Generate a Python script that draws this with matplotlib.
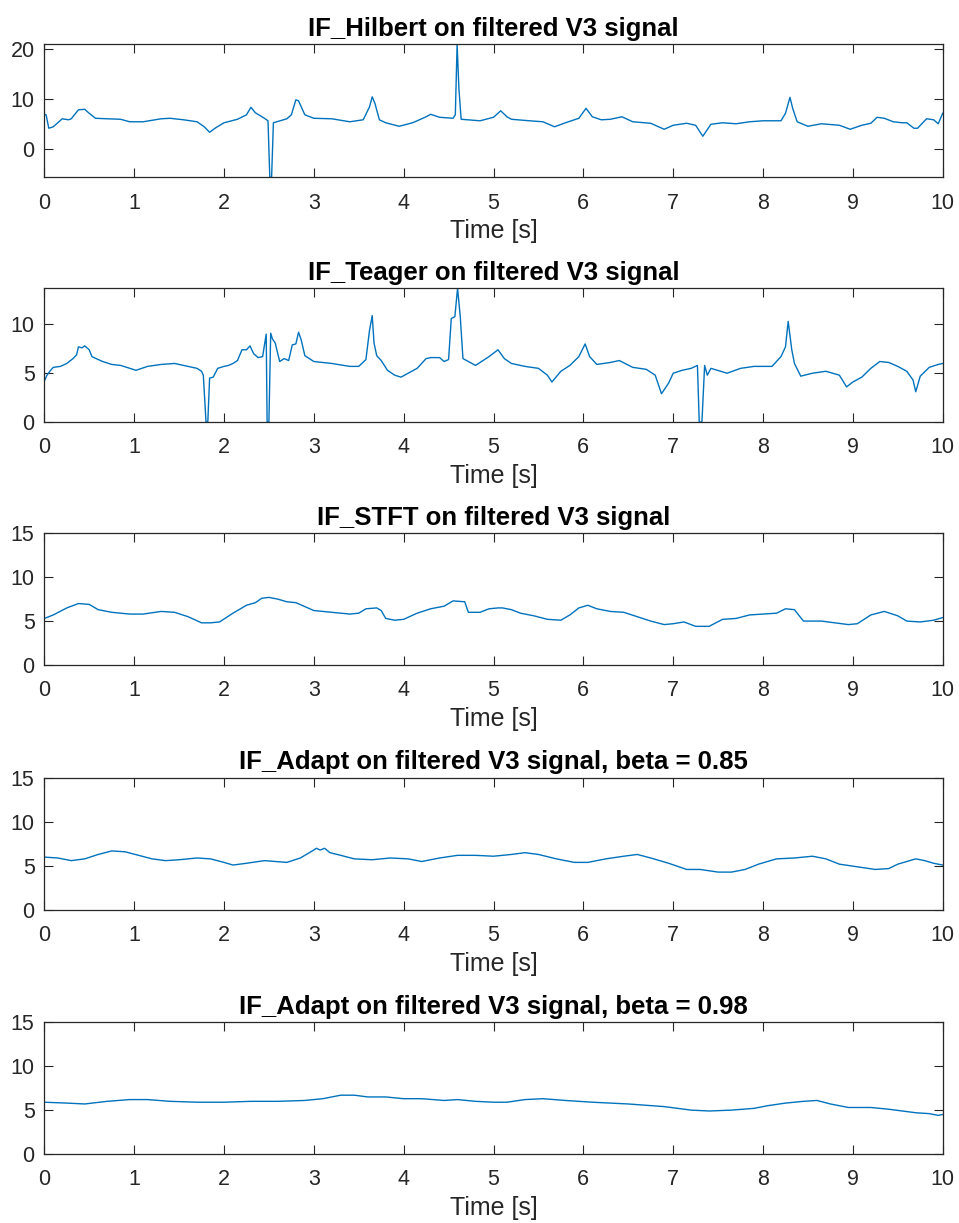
import matplotlib
matplotlib.use("Agg")
import matplotlib.pyplot as plt

# --------------------------------------------------------------------------- #
# Values (time in s, instantaneous frequency in Hz)
# --------------------------------------------------------------------------- #
hilbert_t = [0.0, 0.02, 0.05, 0.1, 0.2, 0.27, 0.3, 0.38, 0.45, 0.5, 0.57, 0.7, 0.85,
             0.95, 1.1, 1.3, 1.4, 1.55, 1.7, 1.78, 1.84, 1.9, 2.0, 2.15, 2.25, 2.3,
             2.35, 2.45, 2.49, 2.51, 2.53, 2.55, 2.7, 2.75, 2.8, 2.83, 2.9, 3.0, 3.2,
             3.4, 3.55, 3.62, 3.65, 3.68, 3.73, 3.8, 3.95, 4.1, 4.25, 4.3, 4.4, 4.55,
             4.575, 4.595, 4.615, 4.64, 4.85, 5.0, 5.08, 5.15, 5.2, 5.4, 5.55, 5.68,
             5.8, 5.95, 6.03, 6.1, 6.2, 6.3, 6.43, 6.55, 6.75, 6.9, 7.0, 7.15, 7.25,
             7.33, 7.42, 7.55, 7.7, 7.85, 8.0, 8.2, 8.25, 8.3, 8.33, 8.38, 8.5, 8.65,
             8.85, 8.97, 9.1, 9.2, 9.27, 9.35, 9.45, 9.55, 9.6, 9.68, 9.72, 9.82, 9.9,
             9.95, 10.0]
hilbert_if = [6.9, 6.8, 4.1, 4.4, 6.0, 5.8, 6.0, 7.8, 7.9, 7.1, 6.1, 6.0, 5.9,
              5.4, 5.4, 6.0, 6.1, 5.8, 5.4, 4.4, 3.3, 4.1, 5.2, 5.9, 6.8, 8.3,
              7.2, 6.1, 5.6, -5.74, -5.74, 5.2, 6.0, 6.8, 9.8, 9.6, 6.8, 6.1, 6.0,
              5.4, 5.8, 8.4, 10.4, 9.1, 5.8, 5.2, 4.5, 5.2, 6.4, 6.9, 6.3, 6.1,
              6.8, 20.94, 12.0, 5.9, 5.6, 6.3, 7.6, 6.4, 5.9, 5.6, 5.4, 4.4,
              5.2, 6.1, 8.1, 6.4, 5.8, 5.9, 6.4, 5.4, 5.1, 3.9, 4.7, 5.1, 4.7,
              2.5, 4.9, 5.2, 5.0, 5.4, 5.6, 5.6, 7.1, 10.3, 8.1, 5.4, 4.5, 5.0,
              4.7, 3.9, 4.7, 5.1, 6.3, 6.1, 5.4, 5.2, 5.2, 4.1, 4.1, 6.0, 5.8,
              5.0, 7.1]

teager_t = [0.0, 0.03, 0.07, 0.1, 0.18, 0.25, 0.32, 0.36, 0.38, 0.42, 0.45, 0.5, 0.53,
            0.6, 0.65, 0.75, 0.85, 0.95, 1.02, 1.15, 1.3, 1.45, 1.6, 1.7, 1.75, 1.77,
            1.8, 1.82, 1.84, 1.88, 1.93, 2.0, 2.05, 2.1, 2.15, 2.2, 2.25, 2.29, 2.33,
            2.38, 2.43, 2.47, 2.48, 2.5, 2.52, 2.54, 2.57, 2.62, 2.67, 2.72, 2.76,
            2.8, 2.83, 2.86, 2.9, 3.0, 3.2, 3.4, 3.5, 3.58, 3.62, 3.65, 3.67, 3.7,
            3.75, 3.82, 3.9, 3.97, 4.05, 4.15, 4.25, 4.3, 4.4, 4.45, 4.5, 4.53, 4.57,
            4.6, 4.63, 4.66, 4.72, 4.8, 4.95, 5.05, 5.12, 5.2, 5.35, 5.5, 5.6, 5.65,
            5.75, 5.85, 5.95, 6.02, 6.07, 6.15, 6.3, 6.4, 6.55, 6.7, 6.8, 6.87, 6.95,
            7.0, 7.1, 7.2, 7.27, 7.29, 7.32, 7.35, 7.38, 7.42, 7.6, 7.75, 7.9, 8.1,
            8.2, 8.25, 8.28, 8.32, 8.35, 8.42, 8.55, 8.7, 8.85, 8.93, 9.0, 9.1, 9.2,
            9.3, 9.4, 9.5, 9.6, 9.67, 9.7, 9.75, 9.85, 9.95, 10.0]
teager_if = [4.2, 4.8, 5.3, 5.6, 5.7, 6.0, 6.5, 6.9, 7.7, 7.6, 7.8, 7.4, 6.7,
             6.4, 6.2, 5.9, 5.8, 5.5, 5.3, 5.7, 5.9, 6.0, 5.7, 5.5, 5.2, 4.8,
             0.0, 0.0, 4.5, 4.6, 5.5, 5.7, 5.8, 6.0, 6.3, 7.4, 7.4, 7.8, 7.0,
             6.6, 6.7, 9.0, 0.0, 0.0, 9.1, 8.5, 8.1, 6.2, 6.5, 6.3, 7.9,
             8.0, 9.2, 8.4, 6.8, 6.2, 6.0, 5.7, 5.7, 6.4, 9.4, 10.9, 8.1, 6.8,
             6.3, 5.3, 4.8, 4.6, 5.0, 5.5, 6.5, 6.6, 6.6, 6.2, 6.4, 10.6, 10.8,
             13.7, 10.8, 6.5, 6.2, 5.8, 6.7, 7.4, 6.5, 6.0, 5.7, 5.5, 4.8, 4.1,
             5.2, 5.8, 6.7, 8.0, 6.7, 5.9, 6.1, 6.3, 5.6, 5.4, 4.8, 2.9, 4.0,
             5.0, 5.3, 5.5, 5.8, 0.0, 0.0, 5.8, 4.8, 5.5, 5.0, 5.5, 5.7, 5.7,
             6.7, 7.7, 10.3, 7.4, 6.0, 4.7, 5.0, 5.2, 4.8, 3.6, 4.1, 4.6, 5.5,
             6.2, 6.1, 5.7, 5.2, 4.3, 3.1, 4.7, 5.6, 5.9, 6.0]

stft_t = [0.0, 0.1, 0.25, 0.38, 0.5, 0.6, 0.75, 0.95, 1.1, 1.3, 1.45, 1.6, 1.75, 1.85,
          1.95, 2.1, 2.25, 2.35, 2.42, 2.5, 2.6, 2.7, 2.8, 3.0, 3.2, 3.4, 3.5, 3.58,
          3.7, 3.75, 3.8, 3.9, 4.0, 4.15, 4.3, 4.45, 4.55, 4.68, 4.72, 4.85, 4.95,
          5.05, 5.1, 5.2, 5.3, 5.45, 5.6, 5.75, 5.85, 5.95, 6.05, 6.15, 6.3, 6.45,
          6.6, 6.75, 6.9, 7.0, 7.12, 7.25, 7.4, 7.55, 7.7, 7.85, 8.0, 8.15, 8.25,
          8.35, 8.45, 8.65, 8.8, 8.95, 9.05, 9.2, 9.35, 9.5, 9.6, 9.75, 9.9, 10.0]
stft_if = [5.3, 5.7, 6.5, 7.0, 6.9, 6.3, 6.0, 5.8, 5.8, 6.1, 6.0, 5.5, 4.8, 4.8,
           4.9, 5.9, 6.8, 7.1, 7.6, 7.7, 7.5, 7.2, 7.1, 6.2, 6.0, 5.8, 5.9, 6.4,
           6.5, 6.2, 5.3, 5.1, 5.2, 5.9, 6.4, 6.7, 7.3, 7.2, 6.0, 6.0, 6.4,
           6.5, 6.5, 6.3, 5.9, 5.6, 5.2, 5.1, 5.7, 6.5, 6.8, 6.4, 6.1, 6.0,
           5.5, 5.0, 4.6, 4.7, 4.9, 4.4, 4.4, 5.2, 5.3, 5.7, 5.8, 5.9, 6.4,
           6.3, 5.0, 5.0, 4.8, 4.6, 4.7, 5.7, 6.1, 5.6, 5.0, 4.9, 5.1, 5.4]

adapt85_t = [0.0, 0.15, 0.3, 0.45, 0.6, 0.75, 0.9, 1.05, 1.2, 1.35, 1.5, 1.7, 1.85,
             2.0, 2.1, 2.25, 2.45, 2.7, 2.85, 2.95, 3.03, 3.07, 3.12, 3.18, 3.3, 3.45,
             3.65, 3.85, 4.05, 4.2, 4.4, 4.6, 4.8, 5.0, 5.2, 5.35, 5.5, 5.7, 5.9,
             6.05, 6.25, 6.45, 6.6, 6.75, 6.95, 7.15, 7.3, 7.5, 7.65, 7.8, 7.95, 8.15,
             8.35, 8.55, 8.7, 8.85, 9.05, 9.25, 9.4, 9.5, 9.7, 9.8, 9.9, 10.0]
adapt85_if = [6.0, 5.9, 5.6, 5.8, 6.3, 6.7, 6.6, 6.2, 5.8, 5.6, 5.7, 5.9, 5.8,
              5.4, 5.1, 5.3, 5.6, 5.4, 5.9, 6.5, 7.0, 6.8, 7.0, 6.5, 6.2, 5.8,
              5.7, 5.9, 5.8, 5.5, 5.9, 6.2, 6.2, 6.1, 6.3, 6.5, 6.3, 5.8, 5.4,
              5.4, 5.8, 6.1, 6.3, 5.9, 5.3, 4.6, 4.6, 4.3, 4.3, 4.6, 5.2, 5.8,
              5.9, 6.1, 5.8, 5.2, 4.9, 4.6, 4.7, 5.2, 5.8, 5.6, 5.3, 5.1]

adapt98_t = [0.0, 0.25, 0.45, 0.7, 0.95, 1.15, 1.4, 1.7, 2.0, 2.3, 2.6, 2.9, 3.1, 3.3,
             3.45, 3.6, 3.8, 4.0, 4.2, 4.45, 4.6, 4.8, 5.0, 5.15, 5.35, 5.55, 5.8,
             6.1, 6.5, 6.9, 7.2, 7.4, 7.65, 7.9, 8.05, 8.25, 8.45, 8.6, 8.75, 8.95,
             9.2, 9.4, 9.55, 9.7, 9.85, 9.95, 10.0]
adapt98_if = [5.9, 5.8, 5.7, 6.0, 6.2, 6.2, 6.0, 5.9, 5.9, 6.0, 6.0, 6.1, 6.3, 6.7,
              6.7, 6.5, 6.5, 6.3, 6.3, 6.1, 6.2, 6.0, 5.9, 5.9, 6.2, 6.3, 6.1,
              5.9, 5.7, 5.4, 5.0, 4.9, 5.0, 5.2, 5.5, 5.8, 6.0, 6.1, 5.7, 5.3,
              5.3, 5.1, 4.9, 4.7, 4.6, 4.4, 4.5]

titles = ["IF_Hilbert on filtered V3 signal",
          "IF_Teager on filtered V3 signal",
          "IF_STFT on filtered V3 signal",
          "IF_Adapt on filtered V3 signal, beta = 0.85",
          "IF_Adapt on filtered V3 signal, beta = 0.98"]

series = [(hilbert_t, hilbert_if), (teager_t, teager_if), (stft_t, stft_if),
          (adapt85_t, adapt85_if), (adapt98_t, adapt98_if)]

# --------------------------------------------------------------------------- #
# Figure (MATLAB-like look)
# --------------------------------------------------------------------------- #
plt.rcParams["font.family"] = ["Liberation Sans", "DejaVu Sans"]
AXCOL = "#262626"

fig = plt.figure(figsize=(9.59, 12.23), dpi=100)
# [bottom, top] of each axes in figure fractions
rows = [(0.855, 0.9638), (0.6549, 0.7643), (0.4563, 0.5639),
        (0.2559, 0.3641), (0.0564, 0.1641)]
left, right = 0.0462, 0.983

for i, ((t, f), title, (b, top)) in enumerate(zip(series, titles, rows)):
    ax = fig.add_axes([left, b, right - left, top - b])
    ax.plot(t, f, color="#0072BD", lw=1.0)
    ax.set_xlim(0, 10)
    if i == 0:
        ax.set_ylim(min(f), max(f))
        ax.set_yticks([0, 10, 20])
    elif i == 1:
        ax.set_ylim(0, max(f))
        ax.set_yticks([0, 5, 10])
    else:
        ax.set_ylim(0, 15)
        ax.set_yticks([0, 5, 10, 15])
    ax.set_xticks(range(11))
    ax.tick_params(direction="in", length=6.5, width=0.8, colors=AXCOL,
                   labelsize=15.5, top=True, right=True)
    ax.tick_params(axis="x", pad=11)
    ax.tick_params(axis="y", pad=7)
    for s in ax.spines.values():
        s.set_color(AXCOL)
        s.set_linewidth(0.9)
    ax.set_xlabel("Time [s]", fontsize=18, color=AXCOL, labelpad=4)
    ax.set_title(title, fontsize=18.5, fontweight="bold", pad=6)

fig.savefig("out.png", dpi=100)
